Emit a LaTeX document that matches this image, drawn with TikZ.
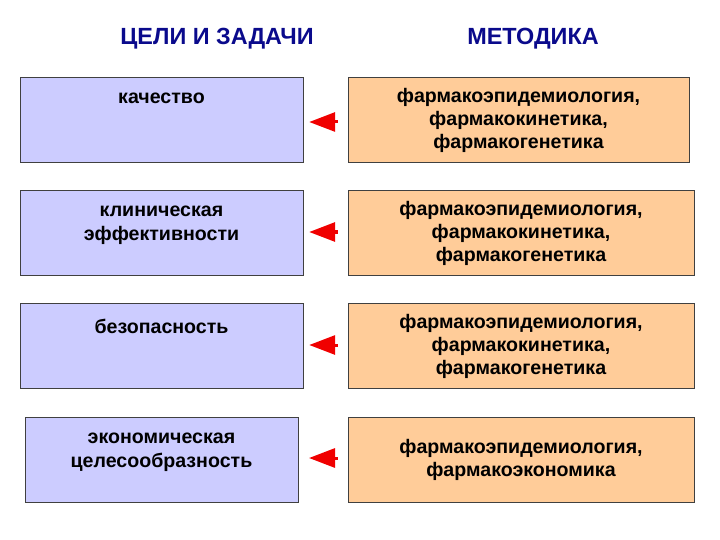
\documentclass[tikz,border=0pt]{standalone}
\usepackage{fontspec}
\setmainfont{Liberation Sans}
\usetikzlibrary{arrows.meta}
\definecolor{goalfill}{RGB}{204,204,255}
\definecolor{methfill}{RGB}{255,204,153}
\definecolor{headblue}{RGB}{10,10,140}
\definecolor{arrowred}{RGB}{240,0,0}
\tikzset{
  head/.style={text=headblue, font=\fontsize{23.4}{27}\bfseries\selectfont},
  goal/.style={draw=black!75, fill=goalfill, minimum width=283pt, minimum height=85pt, inner sep=0pt},
  goaltext/.style={anchor=north, yshift=-16pt, align=center, inner sep=0pt, font=\fontsize{19.6}{23.5}\bfseries\selectfont},
  meth/.style={draw=black!75, fill=methfill, minimum width=346pt, minimum height=85pt, inner sep=0pt,
    text depth=3pt, align=center, font=\fontsize{19.6}{23}\bfseries\selectfont},
  link/.style={arrowred, line width=3pt, -{Triangle[length=26pt, width=19pt]}, shorten >=6pt, shorten <=10pt}
}
\begin{document}
\begin{tikzpicture}[x=1pt, y=-1pt]
  \useasboundingbox (0,0) rectangle (720,540);
  % headings
  \node[head] (hgoal) at (217,39) {ЦЕЛИ И ЗАДАЧИ};
  \node[head] (hmeth) at (533,39) {МЕТОДИКА};

  % goals (left)
  \node[goal, label={[goaltext]north:качество}] (g1) at (161.5,119.5) {};
  \node[goal, label={[goaltext]north:клиническая\\эффективности}] (g2) at (161.5,232.5) {};
  \node[goal, label={[goaltext]north:безопасность}] (g3) at (161.5,345.5) {};
  \node[goal, minimum width=273pt, label={[goaltext]north:экономическая\\целесообразность}] (g4) at (161.5,459.5) {};

  % methods (right)
  \node[meth, minimum width=341pt] (m1) at (518.5,119.5) {фармакоэпидемиология,\\фармакокинетика,\\фармакогенетика};
  \node[meth] (m2) at (521,232.5) {фармакоэпидемиология,\\фармакокинетика,\\фармакогенетика};
  \node[meth] (m3) at (521,345.5) {фармакоэпидемиология,\\фармакокинетика,\\фармакогенетика};
  \node[meth] (m4) at (521,459.5) {фармакоэпидемиология,\\фармакоэкономика};

  % red arrows
  \draw[link] (m1.west |- 0,122) -- (g1.east |- 0,122);
  \draw[link] (m2.west |- 0,232) -- (g2.east |- 0,232);
  \draw[link] (m3.west |- 0,345) -- (g3.east |- 0,345);
  \draw[link] (m4.west |- 0,458) -- (303,458);
\end{tikzpicture}
\end{document}
